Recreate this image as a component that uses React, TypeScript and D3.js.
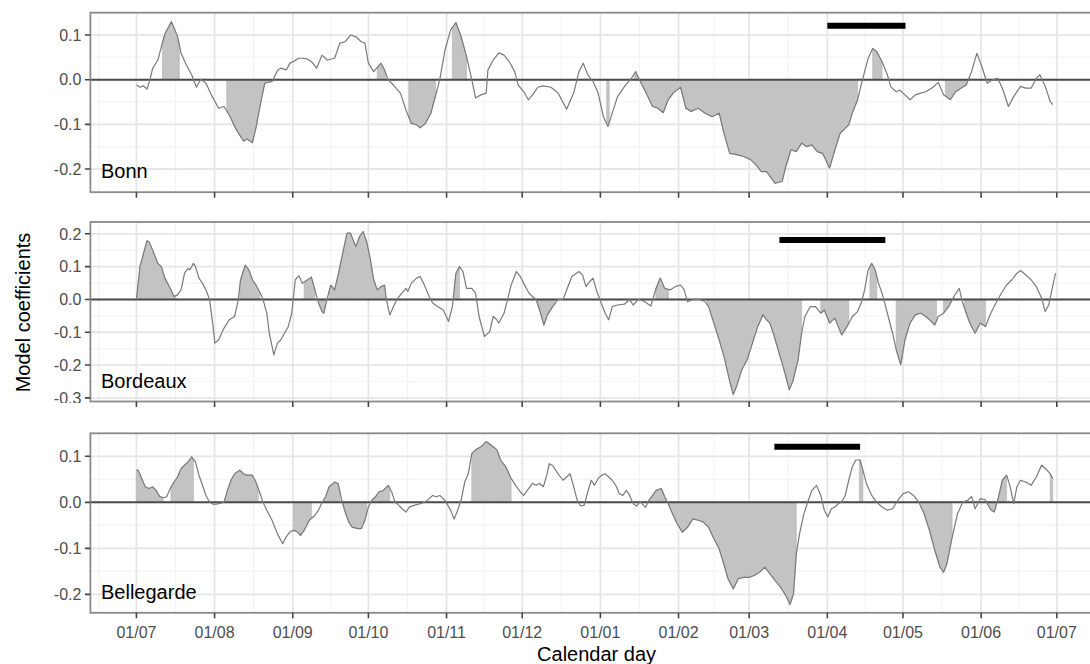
import * as d3 from 'd3';

// calendar days counted from 1 July
const monthDays = [0, 31, 62, 92, 123, 153, 184, 215, 243, 274, 304, 335, 365];
const monthLabels = ['01/07', '01/08', '01/09', '01/10', '01/11', '01/12', '01/01', '01/02', '01/03', '01/04', '01/05', '01/06', '01/07'];

type Pt = [number, number];

const bonn: Pt[] = [
  [0, -0.012], [1.4, -0.017], [2.8, -0.014], [4.2, -0.021], [5.4, 0.0], [6.4, 0.025], [8.5, 0.044], [9.9, 0.074],
  [11.3, 0.103], [13.9, 0.13], [16.3, 0.097], [17.7, 0.059], [19.8, 0.033], [21.9, 0.011], [23.8, -0.017], [25.5, 0.001],
  [27.6, -0.008], [29.7, -0.034], [32.6, -0.064], [34.7, -0.06], [36.8, -0.079], [39.6, -0.112], [42.5, -0.138], [43.9, -0.133],
  [46, -0.141], [47.4, -0.108], [49.5, -0.045], [50.9, -0.008], [53.8, -0.004], [56, 0.021], [57.3, 0.026], [59.4, 0.022],
  [60.9, 0.037], [62.3, 0.041], [64.4, 0.048], [66, 0.048], [67.9, 0.046], [69.5, 0.04], [71.5, 0.026], [73.6, 0.055],
  [75.7, 0.044], [78.6, 0.048], [80.7, 0.082], [82.8, 0.085], [84.9, 0.1], [87, 0.096], [89.2, 0.085], [90.6, 0.082],
  [92, 0.037], [94.1, 0.018], [97, 0.037], [98.4, 0.022], [99.8, 0], [101.9, -0.012], [104.7, -0.03], [106.9, -0.068],
  [109, -0.098], [111.1, -0.101], [112.5, -0.108], [114.6, -0.098], [116.8, -0.075], [118.2, -0.045], [120.3, 0], [122.4, 0.067],
  [124.6, 0.111], [126.7, 0.128], [128.8, 0.096], [130.9, 0.052], [133, 0], [134.5, -0.041], [136.6, -0.034], [138.7, -0.03],
  [139.4, 0.022], [141.5, 0.044], [143.7, 0.06], [145.8, 0.055], [147.9, 0.04], [150, 0.018], [151.4, -0.012], [153.6, -0.027],
  [155.4, -0.045], [157.1, -0.034], [159.2, -0.017], [161.4, -0.014], [164.4, -0.017], [167.2, -0.03], [170.6, -0.066], [173.4, -0.03],
  [175.5, 0.018], [177.2, 0.037], [179, 0.011], [181.1, -0.004], [183.1, -0.03], [185.2, -0.083], [187, -0.105], [188.7, -0.075],
  [190.8, -0.038], [193.6, -0.015], [196.3, 0.003], [198, 0.018], [199.8, -0.004], [201.9, -0.027], [204.7, -0.06], [206.8, -0.064],
  [208.9, -0.074], [210.9, -0.045], [213, -0.029], [215.8, -0.017], [217.9, -0.064], [220, -0.071], [222.8, -0.064], [225.5, -0.075],
  [228.3, -0.083], [231.1, -0.075], [233.2, -0.124], [235.3, -0.165], [238, -0.168], [240.8, -0.172], [243.6, -0.179], [245.7, -0.191],
  [247.8, -0.206], [249.9, -0.206], [253.3, -0.232], [256.1, -0.228], [257.5, -0.195], [259.6, -0.157], [261.7, -0.161], [263.8, -0.142],
  [265.8, -0.15], [267.9, -0.146], [270, -0.161], [272.1, -0.165], [274.9, -0.198], [277, -0.157], [279.1, -0.12], [281.1, -0.109],
  [282.5, -0.101], [283.9, -0.075], [286, -0.045], [287.4, -0.012], [288.8, 0.018], [290.2, 0.048], [292, 0.07], [293.6, 0.063],
  [295.7, 0.04], [297.8, 0.011], [299.2, -0.016], [301.3, -0.027], [302.7, -0.023], [304.8, -0.034], [306.8, -0.045], [308.9, -0.034],
  [311, -0.03], [313.1, -0.027], [315.9, -0.017], [318, -0.006], [320.1, -0.034], [322.8, -0.045], [324.9, -0.027], [327, -0.019],
  [329.1, -0.012], [331.2, 0.018], [333.3, 0.059], [335.3, 0.029], [337.4, -0.008], [339.5, 0], [341.6, 0.003], [343.7, -0.023],
  [345.8, -0.06], [347.9, -0.038], [350.6, -0.015], [352.7, -0.019], [354.8, -0.019], [356.9, 0.003], [358.3, 0.011], [360.4, -0.015],
  [362.4, -0.049], [363.4, -0.056],
];

const bordeaux: Pt[] = [
  [0, 0], [1.4, 0.1], [2.8, 0.14], [4.2, 0.179], [5, 0.176], [6.4, 0.151], [8.5, 0.11], [9.9, 0.1],
  [11.3, 0.065], [13.4, 0.034], [14.9, 0.009], [16.3, 0.014], [17.7, 0.029], [19.1, 0.08], [20.5, 0.095], [21.2, 0.09],
  [22.6, 0.11], [23.4, 0.1], [24.8, 0.065], [26.2, 0.049], [27.6, 0.029], [29, 0], [30.4, -0.083], [31.1, -0.133],
  [32.6, -0.123], [34.7, -0.088], [36.8, -0.062], [38.9, -0.052], [40.3, -0.006], [41.3, 0.06], [43.2, 0.105], [44.6, 0.09],
  [46, 0.06], [47.4, 0.044], [48.8, 0.024], [50.2, 0], [51.7, -0.042], [52.7, -0.103], [53.8, -0.143], [54.5, -0.169],
  [55.9, -0.133], [57.3, -0.123], [58.7, -0.103], [60.2, -0.083], [61.6, -0.042], [63, 0.06], [64.4, 0.072], [65.8, 0.049],
  [67.9, 0.06], [69.4, 0.068], [70.8, 0.029], [72.2, -0.011], [73.6, -0.037], [74.3, -0.042], [75.7, 0.004], [77.1, 0.044],
  [78.6, 0.029], [80, 0.075], [82.1, 0.151], [83.5, 0.202], [84.9, 0.202], [87, 0.161], [88.5, 0.192], [89.9, 0.207],
  [91.3, 0.176], [92.7, 0.125], [94.1, 0.06], [95.5, 0.029], [97, 0.039], [98.4, 0.044], [99.1, 0], [100.5, -0.047],
  [101.9, -0.022], [103.3, 0], [104.7, 0.014], [106.9, 0.034], [107.6, 0.024], [109, 0.049], [111.1, 0.065], [112.5, 0.07],
  [113.9, 0.049], [116.1, 0.009], [117.5, -0.011], [119.6, -0.022], [121.7, -0.032], [123.8, -0.067], [125.3, -0.022], [126.7, 0.08],
  [128.1, 0.1], [129.5, 0.085], [130.9, 0.034], [133, 0.034], [134.5, 0.019], [135.9, -0.052], [138, -0.113], [140.1, -0.098],
  [141.5, -0.052], [142.9, -0.062], [143.7, -0.072], [145.8, -0.042], [147.2, 0], [148.6, 0.044], [150.7, 0.085], [152.2, 0.07],
  [153.6, 0.049], [155.7, 0.019], [157.1, 0.009], [158.5, 0], [159.9, -0.032], [161.6, -0.078], [163, -0.047], [165.1, -0.022],
  [167.2, 0], [169.2, 0], [170.6, 0.029], [172.7, 0.07], [175.5, 0.085], [176.9, 0.075], [178.3, 0.039], [179.7, 0.054],
  [181.1, 0.065], [182.4, 0.029], [183.8, 0], [185.9, -0.042], [187.3, -0.062], [188.7, -0.022], [190.8, -0.017], [193.6, -0.014],
  [195.6, 0], [197, -0.017], [199.1, 0], [201.2, -0.005], [204, -0.02], [206.1, 0.034], [207.7, 0.065], [209.5, 0.034],
  [211.6, 0.029], [213.7, 0.039], [215.8, 0.044], [217.2, 0.029], [218.6, -0.007], [220.7, 0], [223.4, 0], [225.5, -0.007],
  [226.9, -0.022], [229, -0.072], [231.1, -0.123], [233.2, -0.179], [235.3, -0.25], [236.7, -0.29], [238, -0.265], [240.1, -0.214],
  [242.2, -0.184], [244.3, -0.133], [246.4, -0.083], [248.5, -0.047], [249.9, -0.062], [251.2, -0.072], [252.6, -0.103], [254.7, -0.159],
  [256.8, -0.214], [258.9, -0.275], [260.3, -0.25], [262.4, -0.184], [263.8, -0.103], [265.1, -0.052], [267.2, -0.022], [269.3, -0.022],
  [271.4, -0.042], [272.8, -0.032], [274.9, -0.072], [277, -0.057], [279.7, -0.108], [281.8, -0.083], [283.9, -0.052], [286, -0.037],
  [287.4, -0.011], [288.8, 0.029], [290.2, 0.09], [291.6, 0.11], [293, 0.09], [294.3, 0.049], [295.7, 0.019], [297.8, -0.042],
  [299.9, -0.103], [301.3, -0.153], [303.1, -0.199], [304.8, -0.123], [306.8, -0.072], [308.9, -0.047], [311, -0.042], [313.1, -0.052],
  [315.2, -0.067], [316.6, -0.078], [318, -0.052], [320.1, -0.042], [322.1, -0.022], [324.2, 0.009], [326.3, 0.034], [327.7, -0.011],
  [329.1, -0.042], [330.5, -0.072], [332.6, -0.103], [334.7, -0.072], [336.7, -0.083], [338.8, -0.042], [340.9, -0.011], [343, 0.019],
  [345.1, 0.044], [347.2, 0.06], [349.2, 0.08], [350.6, 0.088], [352.7, 0.075], [354.8, 0.06], [356.9, 0.039], [359, 0.004],
  [360.4, -0.037], [361.8, -0.017], [363.2, 0.034], [364.5, 0.08],
];

const bellegarde: Pt[] = [
  [0, 0.07], [0.7, 0.07], [2.1, 0.052], [3.5, 0.034], [5, 0.03], [6.4, 0.034], [7.8, 0.026], [9.2, 0.013],
  [10.6, 0.01], [12, 0.012], [13.4, 0.03], [14.9, 0.044], [16.3, 0.055], [17.7, 0.073], [19.1, 0.081], [20.5, 0.088],
  [21.9, 0.099], [23.4, 0.088], [24.8, 0.059], [26.2, 0.037], [27.6, 0.015], [29, 0], [30.4, -0.004], [31.8, -0.004],
  [33.3, -0.002], [34.7, 0], [36.1, 0.026], [37.5, 0.048], [38.9, 0.062], [41, 0.07], [42.5, 0.062], [43.9, 0.059],
  [46, 0.059], [47.4, 0.044], [48.8, 0.023], [50.2, 0], [51.7, -0.017], [53.8, -0.039], [55.9, -0.068], [58, -0.09],
  [59.4, -0.075], [60.9, -0.064], [62.3, -0.061], [63.7, -0.064], [65.1, -0.072], [66.5, -0.061], [68.6, -0.039], [70.8, -0.028],
  [72.2, -0.017], [73.6, -0.001], [75, 0.012], [76.4, 0.034], [78.6, 0.044], [80, 0.041], [81.4, 0.005], [82.8, -0.021],
  [84.2, -0.043], [85.6, -0.054], [87.8, -0.057], [89.2, -0.057], [90.6, -0.039], [92, -0.01], [93.4, 0.005], [94.8, 0.012],
  [96.2, 0.023], [97.7, 0.025], [99.8, 0.037], [101.2, 0.023], [102.6, 0], [104, -0.006], [105.4, -0.014], [106.9, -0.021],
  [108.3, -0.01], [110.4, -0.006], [112.5, -0.003], [114.6, 0.001], [116.1, 0.008], [117.5, 0.015], [118.9, 0.012], [120.3, 0.015],
  [122.4, 0.004], [124.6, -0.017], [126, -0.036], [127.4, -0.017], [128.8, 0.005], [130.2, 0.044], [131.6, 0.062], [133, 0.106],
  [134.5, 0.114], [136.6, 0.121], [138.7, 0.132], [140.8, 0.124], [143, 0.114], [144.4, 0.092], [146.5, 0.077], [148.6, 0.052],
  [150.7, 0.034], [152.2, 0.023], [153.6, 0.015], [155, 0.026], [157.1, 0.041], [158.5, 0.037], [159.9, 0.041], [161.4, 0.034],
  [162.8, 0.06], [163.7, 0.084], [165.1, 0.08], [167.2, 0.062], [169.2, 0.048], [170.6, 0.055], [172, 0.062], [173.4, 0.034],
  [174.8, 0.005], [176.2, -0.008], [177.6, -0.006], [179, 0.023], [180.4, 0.048], [181.7, 0.037], [183.1, 0.052], [184.5, 0.059],
  [185.9, 0.062], [187.3, 0.055], [188.7, 0.048], [190.1, 0.037], [191.5, 0.019], [192.9, 0.015], [194.3, 0.026], [195.6, 0.015],
  [197, -0.003], [198.4, -0.008], [199.8, 0.001], [201.9, -0.011], [203.3, 0.005], [204.7, 0.015], [206.1, 0.026], [208.2, 0.03],
  [209.5, 0.012], [210.9, -0.003], [212.3, -0.021], [214.4, -0.046], [216.5, -0.065], [218.6, -0.054], [220.7, -0.036], [222.8, -0.039],
  [224.8, -0.043], [226.9, -0.054], [229, -0.079], [231.1, -0.101], [232.5, -0.126], [234.6, -0.166], [236.7, -0.188], [238.7, -0.166],
  [240.8, -0.163], [242.9, -0.163], [245, -0.159], [247.1, -0.152], [249.2, -0.141], [251.2, -0.155], [253.3, -0.17], [255.4, -0.184],
  [257.5, -0.202], [259.2, -0.222], [260.6, -0.199], [261.7, -0.112], [263, -0.068], [264.7, -0.025], [266.5, 0.005], [267.9, 0.026],
  [269.7, 0.037], [271.4, 0.015], [272.8, -0.017], [274.2, -0.032], [275.6, -0.014], [277, -0.01], [278.4, -0.003], [279.7, 0.001],
  [281.1, 0.015], [282.5, 0.048], [283.9, 0.077], [285.3, 0.092], [287, 0.092], [288.1, 0.07], [289.5, 0.041], [291.6, 0.015],
  [293.6, 0], [295.7, -0.01], [297.8, -0.017], [299.9, -0.014], [302, 0.005], [304.1, 0.019], [306.2, 0.023], [308.2, 0.015],
  [310.3, 0], [312.4, -0.025], [314.5, -0.061], [316.6, -0.104], [318.7, -0.141], [320.1, -0.152], [321.4, -0.134], [323.5, -0.076],
  [325.6, -0.025], [327.7, 0], [329.8, 0.005], [331.2, 0.013], [332.6, -0.014], [334.7, 0.008], [336.7, 0.005], [338.8, -0.016],
  [340.2, -0.021], [341.6, 0.005], [343.4, 0.048], [345.1, 0.059], [346.5, 0.034], [347.9, -0.003], [349.2, 0.034], [350.6, 0.048],
  [352.7, 0.044], [354.8, 0.037], [356.9, 0.055], [359, 0.081], [361.1, 0.07], [362.4, 0.062], [363.4, 0.052],
];

// significant (shaded) day ranges
const bonnSig: Pt[] = [[10.3, 17], [35.8, 54], [95.5, 99], [108, 118.6], [125.3, 130.9], [186.5, 187.5], [197.5, 286], [292, 295.7], [320.8, 330.5]];
const bordeauxSig: Pt[] = [[0, 15.6], [41, 48.8], [66.5, 70.8], [72.2, 75], [76.4, 99.1], [126, 128.1], [158.5, 165.8], [206, 211], [226.2, 263.8], [271.4, 282.5], [290.9, 293.6], [301.3, 317.3], [320.1, 324.2], [328.4, 336.7]];
const bellegardeSig: Pt[] = [[0, 10.6], [13.7, 22.6], [34.8, 48.3], [62.3, 69.4], [74.3, 80.7], [81.4, 91.3], [93.4, 100.5], [133, 148.6], [203.3, 210.2], [210.9, 261.7], [286.7, 288.1], [311, 323.5], [337.5, 345.1], [362.4, 363.4]];

// black bars: [start day, end day, value]
const bonnBar = [274, 305, 0.121];
const bordeauxBar = [255, 297, 0.181];
const bellegardeBar = [253, 287, 0.121];

const sites = [
  { name: 'Bonn', data: bonn, sig: bonnSig, bar: bonnBar, domain: [-0.252, 0.15], ticks: [-0.2, -0.1, 0, 0.1] },
  { name: 'Bordeaux', data: bordeaux, sig: bordeauxSig, bar: bordeauxBar, domain: [-0.311, 0.236], ticks: [-0.3, -0.2, -0.1, 0, 0.1, 0.2] },
  { name: 'Bellegarde', data: bellegarde, sig: bellegardeSig, bar: bellegardeBar, domain: [-0.24, 0.15], ticks: [-0.2, -0.1, 0, 0.1] },
];

const W = 1090;
const H = 664;
const panelLeft = 90.4;
const panelRight = 1102.8;
const panelTops = [12.7, 222, 433.3];
const panelH = 179.5;
const font = '"Liberation Sans", Arial, sans-serif';

const x = d3.scaleLinear().domain([-18.25, 383.25]).range([panelLeft, panelRight]);

function valueAt(pts: Pt[], t: number) {
  if (t <= pts[0][0]) return pts[0][1];
  for (let i = 0; i < pts.length - 1; i++) {
    const [a, va] = pts[i];
    const [b, vb] = pts[i + 1];
    if (t >= a && t <= b) return va + ((vb - va) * (t - a)) / (b - a);
  }
  return pts[pts.length - 1][1];
}

function slice(pts: Pt[], a: number, b: number): Pt[] {
  return [[a, valueAt(pts, a)], ...pts.filter((p) => p[0] > a && p[0] < b), [b, valueAt(pts, b)]];
}

const xMinor = [-15, ...monthDays.slice(1).map((d, i) => (d + monthDays[i]) / 2)];

export default function App() {
  return (
    <svg width={W} height={H} style={{ position: 'absolute', left: 0, top: 0, background: '#fff' }} fontFamily={font}>
      <defs>
        {sites.map((s, i) => (
          <clipPath id={`clip${i}`} key={s.name}>
            <rect x={panelLeft} y={panelTops[i]} width={panelRight - panelLeft} height={panelH} />
          </clipPath>
        ))}
        {sites.map((s, i) => (
          <clipPath id={`lab${i}`} key={'l' + s.name}>
            <rect x={0} y={panelTops[i] - 12} width={panelLeft} height={panelH + 13.5} />
          </clipPath>
        ))}
      </defs>
      {sites.map((s, i) => {
        const top = panelTops[i];
        const bottom = top + panelH;
        const y = d3.scaleLinear().domain(s.domain).range([bottom, top]);
        const yMinor: number[] = [];
        for (let k = 0; k < s.ticks.length + 1; k++) {
          const v = s.ticks[0] - 0.05 + k * 0.1;
          if (v >= s.domain[0] && v <= s.domain[1]) yMinor.push(v);
        }
        const line = d3.line<Pt>().x((d) => x(d[0])).y((d) => y(d[1]));
        const area = d3.area<Pt>().x((d) => x(d[0])).y0(y(0)).y1((d) => y(d[1]));
        return (
          <g key={s.name}>
            <g clipPath={`url(#clip${i})`}>
              {xMinor.map((d) => (
                <line key={'xm' + d} x1={x(d)} x2={x(d)} y1={top} y2={bottom} stroke="#f4f4f4" strokeWidth={1.2} />
              ))}
              {yMinor.map((v) => (
                <line key={'ym' + v} x1={panelLeft} x2={panelRight} y1={y(v)} y2={y(v)} stroke="#f4f4f4" strokeWidth={1.2} />
              ))}
              {monthDays.map((d) => (
                <line key={'xg' + d} x1={x(d)} x2={x(d)} y1={top} y2={bottom} stroke="#e6e6e6" strokeWidth={1.8} />
              ))}
              {s.ticks.map((v) => (
                <line key={'yg' + v} x1={panelLeft} x2={panelRight} y1={y(v)} y2={y(v)} stroke="#e6e6e6" strokeWidth={1.8} />
              ))}
              {s.sig.map(([a, b]) => (
                <path key={'s' + a} d={area(slice(s.data, a, b)) ?? ''} fill="#c3c3c3" stroke="#b0b0b0" strokeWidth={0.6} />
              ))}
              <line x1={panelLeft} x2={panelRight} y1={y(0)} y2={y(0)} stroke="#4a4a4a" strokeWidth={2} />
              <path d={line(s.data) ?? ''} fill="none" stroke="#7a7a7a" strokeWidth={1.2} strokeLinejoin="round" />
              <line x1={x(s.bar[0])} x2={x(s.bar[1])} y1={y(s.bar[2])} y2={y(s.bar[2])} stroke="#000" strokeWidth={6} />
            </g>
            <rect x={panelLeft} y={top} width={panelRight - panelLeft} height={panelH} fill="none" stroke="#8a8a8a" strokeWidth={1.8} />
            <g clipPath={`url(#lab${i})`}>
              {s.ticks.map((v) => (
                <g key={'yt' + v}>
                  <line x1={panelLeft - 5.5} x2={panelLeft} y1={y(v)} y2={y(v)} stroke="#444" strokeWidth={1.6} />
                  <text x={panelLeft - 9} y={y(v)} dy="0.36em" textAnchor="end" fontSize={16} fill="#4d4d4d">
                    {v.toFixed(1)}
                  </text>
                </g>
              ))}
            </g>
            {monthDays.map((d) => (
              <line key={'xt' + d} x1={x(d)} x2={x(d)} y1={bottom} y2={bottom + 5.5} stroke="#444" strokeWidth={1.6} />
            ))}
            <text x={101} y={bottom - 14} fontSize={20} fill="#000">
              {s.name}
            </text>
          </g>
        );
      })}
      {monthDays.map((d, i) => (
        <text key={'xl' + i} x={x(d)} y={638} textAnchor="middle" fontSize={16} fill="#4d4d4d">
          {monthLabels[i]}
        </text>
      ))}
      <text x={(panelLeft + panelRight) / 2} y={661} textAnchor="middle" fontSize={20} fill="#000">
        Calendar day
      </text>
      <text transform="translate(30,312.5) rotate(-90)" textAnchor="middle" fontSize={20} fill="#000">
        Model coefficients
      </text>
    </svg>
  );
}
